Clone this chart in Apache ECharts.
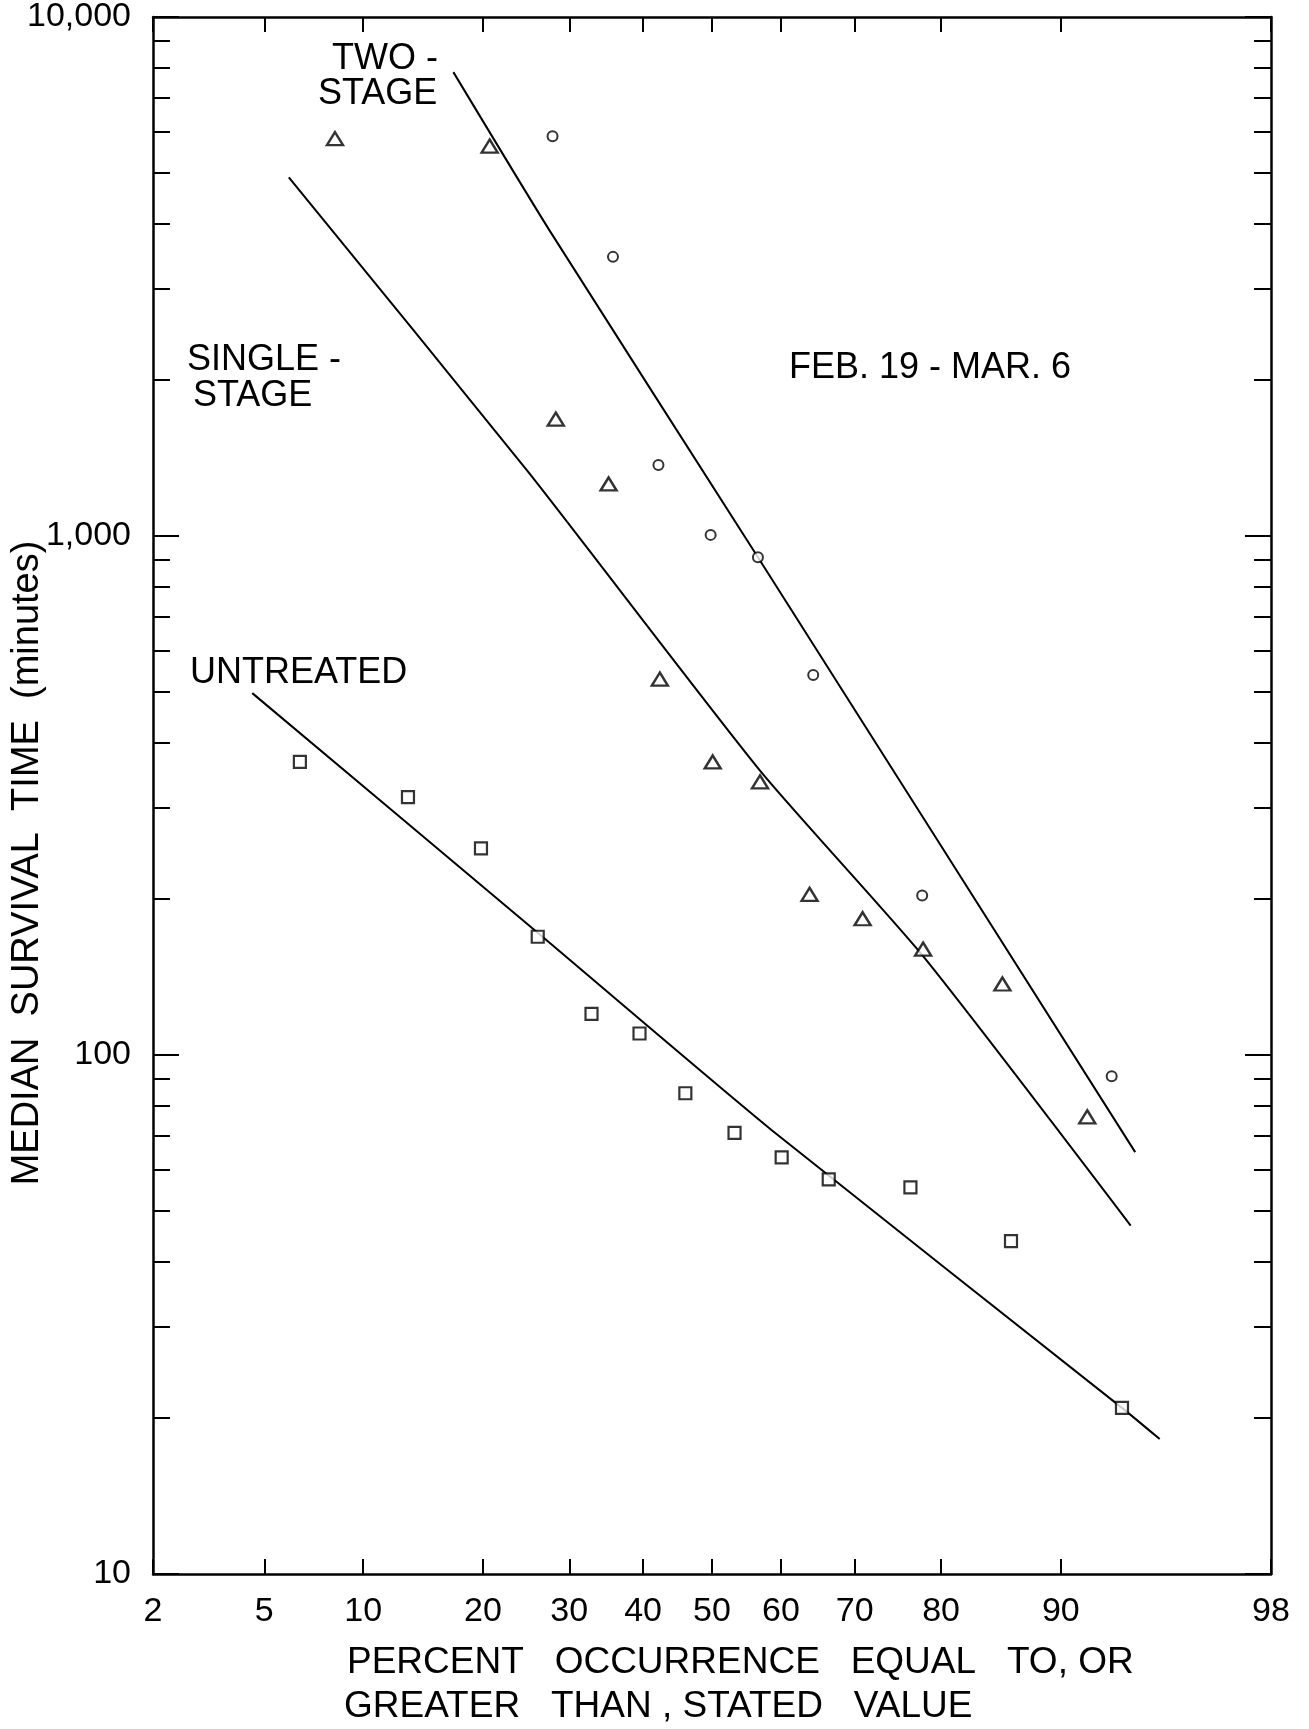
<!DOCTYPE html>
<html><head><meta charset="utf-8">
<script src="https://cdn.jsdelivr.net/npm/echarts@6/dist/echarts.min.js"></script>
<style>html,body{margin:0;padding:0;background:#fff}#c{width:1309px;height:1729px}</style>
</head><body><div id="c"></div>
<script>
// ---- tick definitions ----
const xTickPercents = [2, 5, 10, 20, 30, 40, 50, 60, 70, 80, 90, 98];
const xTickLabels = ['2', '5', '10', '20', '30', '40', '50', '60', '70', '80', '90', '98'];
const yMajorValues = [10, 100, 1000, 10000];
const yMajorLabels = ['10', '100', '1,000', '10,000'];
const yMinorMultipliers = [2, 3, 4, 5, 6, 7, 8, 9];
const yMinorDecades = [10, 100, 1000];

// ---- observed points (percent occurrence, median survival time in minutes) ----
const twoStagePct = [27.9, 35.8, 42.2, 49.8, 56.7, 64.5, 78.0, 92.9];
const twoStageMin = [5890, 3450, 1370, 1005, 910, 540, 203, 91];
const singleStagePct = [8.3, 20.7, 28.3, 35.2, 42.4, 50.1, 57.0, 64.0, 71.0, 78.1, 85.7, 91.6];
const singleStageMin = [5830, 5640, 1680, 1260, 530, 367, 336, 204, 183, 160, 137, 76];
const untreatedPct = [6.5, 13.2, 19.8, 26.1, 32.9, 39.5, 46.1, 53.3, 60.1, 66.6, 76.7, 86.4, 93.4];
const untreatedMin = [367, 314, 250, 169, 120, 110, 84.4, 70.8, 63.5, 57.6, 55.6, 43.8, 20.9];

// ---- fitted curves ----
const twoStageFitPct = [17.1, 27.6, 56.7, 94.0];
const twoStageFitMin = [7830, 3863, 910, 65];
const singleStageFitPct = [6.0, 25.0, 57.0, 78.1, 93.8];
const singleStageFitMin = [4910, 1327, 353, 155, 46.9];
const untreatedFitPct = [4.56, 26.1, 58.6, 93.4, 95.0];
const untreatedFitMin = [498, 172, 71.8, 20.9, 18.2];

// ---- texts ----
const yTitle = 'MEDIAN  SURVIVAL  TIME  (minutes)';
const xTitle1 = 'PERCENT   OCCURRENCE   EQUAL   TO, OR';
const xTitle2 = 'GREATER   THAN , STATED   VALUE';
const annotations = [
  {text: 'TWO -', x: 332, y: 59},
  {text: 'STAGE', x: 318, y: 94},
  {text: 'SINGLE -', x: 187, y: 360},
  {text: 'STAGE', x: 193, y: 396},
  {text: 'UNTREATED', x: 190, y: 673},
  {text: 'FEB. 19 - MAR. 6', x: 789, y: 368}
];

// normal probability scale transform (inverse normal CDF, Acklam)
function probit(p) {
  const a = [-3.969683028665376e+01, 2.209460984245205e+02, -2.759285104469687e+02, 1.383577518672690e+02, -3.066479806614716e+01, 2.506628277459239e+00];
  const b = [-5.447609879822406e+01, 1.615858368580409e+02, -1.556989798598866e+02, 6.680131188771972e+01, -1.328068155288572e+01];
  const c = [-7.784894002430293e-03, -3.223964580411365e-01, -2.400758277161838e+00, -2.549732539343734e+00, 4.374664141464968e+00, 2.938163982698783e+00];
  const d = [7.784695709041462e-03, 3.224671290700398e-01, 2.445134137142996e+00, 3.754408661907416e+00];
  const pl = 0.02425, ph = 1 - pl;
  let q, r;
  if (p < pl) {
    q = Math.sqrt(-2 * Math.log(p));
    return (((((c[0]*q+c[1])*q+c[2])*q+c[3])*q+c[4])*q+c[5]) / ((((d[0]*q+d[1])*q+d[2])*q+d[3])*q+1);
  }
  if (p <= ph) {
    q = p - 0.5; r = q * q;
    return (((((a[0]*r+a[1])*r+a[2])*r+a[3])*r+a[4])*r+a[5])*q / (((((b[0]*r+b[1])*r+b[2])*r+b[3])*r+b[4])*r+1);
  }
  q = Math.sqrt(-2 * Math.log(1 - p));
  return -(((((c[0]*q+c[1])*q+c[2])*q+c[3])*q+c[4])*q+c[5]) / ((((d[0]*q+d[1])*q+d[2])*q+d[3])*q+1);
}
const px = p => probit(p / 100);
const ly = v => Math.log10(v);
const pairs = (ps, vs) => ps.map((p, i) => [px(p), ly(vs[i])]);

const xTickZ = xTickPercents.map(px);
const xMin = xTickZ[0] - 1e-7, xMax = xTickZ[xTickZ.length - 1] + 1e-7;
const yMajorL = yMajorValues.map(ly);
const yMinorL = [];
yMinorDecades.forEach(dd => yMinorMultipliers.forEach(m => yMinorL.push(ly(m * dd))));

const FONT = '"Liberation Sans", Arial, Helvetica, sans-serif';
const BLACK = '#000';

function xLabelFmt(v) {
  for (let i = 0; i < xTickZ.length; i++) if (Math.abs(xTickZ[i] - v) < 1e-6) return xTickLabels[i];
  return '';
}
function yLabelFmt(v) {
  for (let i = 0; i < yMajorL.length; i++) if (Math.abs(yMajorL[i] - v) < 1e-6) return yMajorLabels[i];
  return '';
}

const baseX = {type: 'value', min: xMin, max: xMax, splitLine: {show: false}};
const baseY = {type: 'value', min: 1 - 1e-9, max: 4 + 1e-9, splitLine: {show: false}};
const frameLine = {show: true, onZero: false, lineStyle: {color: BLACK, width: 2.5}};
const noLine = {show: false, onZero: false};

const chart = echarts.init(document.getElementById('c'), null, {renderer: 'canvas'});
const txt = (t, x, y, size) => ({
  type: 'text', x: x, y: y, z: 100,
  style: {text: t, font: size + 'px ' + FONT, fill: BLACK, align: 'left', verticalAlign: 'middle', textAlign: 'left', textVerticalAlign: 'middle'}
});

chart.setOption({
  animation: false,
  backgroundColor: '#fff',
  grid: {left: 153, right: 38, top: 17, bottom: 155, containLabel: false},
  xAxis: [
    Object.assign({}, baseX, {
      position: 'bottom',
      axisLine: frameLine,
      axisTick: {show: true, inside: true, length: 15, customValues: xTickZ, lineStyle: {color: BLACK, width: 2}},
      axisLabel: {show: true, customValues: xTickZ, formatter: xLabelFmt, margin: 21, color: BLACK, fontSize: 34, fontFamily: FONT}
    }),
    Object.assign({}, baseX, {
      position: 'top',
      axisLine: frameLine,
      axisTick: {show: true, inside: true, length: 15, customValues: xTickZ, lineStyle: {color: BLACK, width: 2}},
      axisLabel: {show: false}
    })
  ],
  yAxis: [
    Object.assign({}, baseY, {
      position: 'left',
      axisLine: frameLine,
      axisTick: {show: true, inside: true, length: 26, customValues: yMajorL, lineStyle: {color: BLACK, width: 2}},
      axisLabel: {show: true, customValues: yMajorL, formatter: yLabelFmt, margin: 22, color: BLACK, fontSize: 34, fontFamily: FONT}
    }),
    Object.assign({}, baseY, {
      position: 'left',
      axisLine: noLine,
      axisTick: {show: true, inside: true, length: 17, customValues: yMinorL, lineStyle: {color: BLACK, width: 2}},
      axisLabel: {show: false}
    }),
    Object.assign({}, baseY, {
      position: 'right',
      axisLine: frameLine,
      axisTick: {show: true, inside: true, length: 26, customValues: yMajorL, lineStyle: {color: BLACK, width: 2}},
      axisLabel: {show: false}
    }),
    Object.assign({}, baseY, {
      position: 'right',
      axisLine: noLine,
      axisTick: {show: true, inside: true, length: 17, customValues: yMinorL, lineStyle: {color: BLACK, width: 2}},
      axisLabel: {show: false}
    })
  ],
  series: [
    {type: 'line', name: 'Two-stage fit', data: pairs(twoStageFitPct, twoStageFitMin), showSymbol: false, smooth: 0.2, lineStyle: {color: BLACK, width: 2}, z: 2},
    {type: 'line', name: 'Single-stage fit', data: pairs(singleStageFitPct, singleStageFitMin), showSymbol: false, smooth: 0.2, lineStyle: {color: BLACK, width: 2}, z: 2},
    {type: 'line', name: 'Untreated fit', data: pairs(untreatedFitPct, untreatedFitMin), showSymbol: false, smooth: 0.2, lineStyle: {color: BLACK, width: 2}, z: 2},
    {type: 'scatter', name: 'Two-stage', data: pairs(twoStagePct, twoStageMin), symbol: 'circle', symbolSize: 10,
      itemStyle: {color: '#fff', borderColor: BLACK, borderWidth: 2}, z: 5},
    {type: 'scatter', name: 'Single-stage', data: pairs(singleStagePct, singleStageMin), symbol: 'triangle', symbolSize: [16, 13],
      itemStyle: {color: '#fff', borderColor: BLACK, borderWidth: 2.4}, z: 5},
    {type: 'scatter', name: 'Untreated', data: pairs(untreatedPct, untreatedMin), symbol: 'rect', symbolSize: 12,
      itemStyle: {color: '#fff', borderColor: BLACK, borderWidth: 2.2}, z: 5}
  ],
  graphic: [
    ...annotations.map(a => txt(a.text, a.x, a.y, 36)),
    txt(xTitle1, 347, 1663, 37),
    txt(xTitle2, 344, 1707, 37),
    {type: 'text', x: 28, y: 863, rotation: Math.PI / 2, z: 100,
      style: {text: yTitle, font: '38px ' + FONT, fill: BLACK, align: 'center', verticalAlign: 'middle', textAlign: 'center', textVerticalAlign: 'middle'}}
  ]
});
</script>
</body></html>
